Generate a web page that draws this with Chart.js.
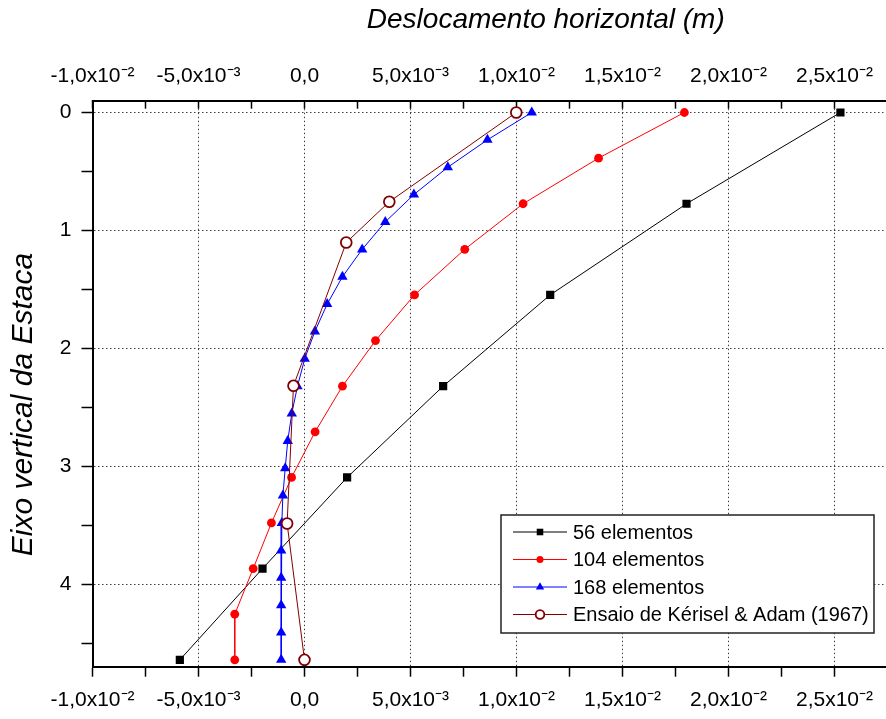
<!DOCTYPE html>
<html>
<head>
<meta charset="utf-8">
<script src="https://cdn.jsdelivr.net/npm/chart.js@4"></script>
<style>
  html, body { margin: 0; padding: 0; background: #fff; overflow: hidden; }
  #wrap { width: 1016px; height: 719px; }
</style>
</head>
<body>
<div id="wrap"><canvas id="chart" width="1016" height="719"></canvas></div>
<script>
// depth along the pile and horizontal displacement (m), one pair per mesh
const depth56 = [0, 0.774, 1.547, 2.321, 3.095, 3.868, 4.642];
const disp56 = [0.02528, 0.01802, 0.01159, 0.00654, 0.00201, -0.00198, -0.00588];

const depth104 = [0, 0.387, 0.774, 1.160, 1.547, 1.934, 2.321, 2.708, 3.095, 3.481, 3.868, 4.255, 4.642];
const disp104 = [0.01792, 0.01387, 0.01031, 0.00756, 0.00519, 0.00335, 0.00179, 0.0005, -0.00061, -0.00156, -0.00242, -0.00329, -0.00329];

const depth168 = [0, 0.232, 0.464, 0.696, 0.928, 1.161, 1.393, 1.625, 1.857, 2.089, 2.321, 2.553, 2.785, 3.017, 3.249, 3.482, 3.714, 3.946, 4.178, 4.41, 4.642];
const disp168 = [0.01072, 0.00863, 0.00676, 0.00516, 0.00381, 0.00272, 0.00179, 0.00107, 0.00049, 0.00001, -0.00033, -0.0006, -0.00079, -0.00091, -0.00102, -0.00107, -0.0011, -0.0011, -0.0011, -0.0011, -0.0011];

const depthEnsaio = [0, 0.757, 1.103, 2.318, 3.486, 4.642];
const dispEnsaio = [0.00999, 0.004, 0.00197, -0.00052, -0.00082, 0.0];

const seriesNames = ['56 elementos', '104 elementos', '168 elementos', 'Ensaio de Kérisel & Adam (1967)'];

const xTickValues = [-0.01, -0.005, 0, 0.005, 0.01, 0.015, 0.02, 0.025];
const xTickLabels = ['-1,0x10⁻²', '-5,0x10⁻³', '0,0', '5,0x10⁻³', '1,0x10⁻²', '1,5x10⁻²', '2,0x10⁻²', '2,5x10⁻²'];
const yTickValues = [0, 1, 2, 3, 4];
const yTickLabels = ['0', '1', '2', '3', '4'];

const FONT = "'Liberation Sans', Arial, sans-serif";
Chart.defaults.font.family = FONT;
Chart.defaults.color = '#000';

function pointsOf(xs, ys) {
    return xs.map((v, i) => ({x: v, y: ys[i]}));
}

function labelFor(values, labels, v) {
    for (let i = 0; i < values.length; i++) {
        if (Math.abs(values[i] - v) < 1e-9) return labels[i];
    }
    return '';
}

function isMajor(values, v) {
    return values.some(t => Math.abs(t - v) < 1e-9);
}

const gridDot = 'rgba(0,0,0,0.75)';

// legend box drawn inside the plot, lower right
const boxLegend = {
    id: 'boxLegend',
    afterDraw(chart) {
        const ctx = chart.ctx;
        ctx.save();
        ctx.fillStyle = '#fff';
        ctx.fillRect(501, 515, 373, 118);
        ctx.strokeStyle = '#222';
        ctx.lineWidth = 1.5;
        ctx.strokeRect(501, 515, 373, 118);
        chart.data.datasets.forEach((ds, row) => {
            const y = 532 + row * 27.5;
            ctx.strokeStyle = ds.borderColor;
            ctx.lineWidth = 1;
            ctx.beginPath();
            ctx.moveTo(513, y);
            ctx.lineTo(567, y);
            ctx.stroke();
            ctx.fillStyle = ds.pointBackgroundColor;
            ctx.strokeStyle = ds.pointBorderColor;
            ctx.lineWidth = ds.pointBorderWidth;
            const r = ds.pointRadius * 0.8;
            ctx.beginPath();
            if (ds.pointStyle === 'rect') {
                const s = r * Math.SQRT1_2;
                ctx.rect(540 - s, y - s, 2 * s, 2 * s);
            } else if (ds.pointStyle === 'triangle') {
                ctx.moveTo(540, y - r);
                ctx.lineTo(540 + r * 0.866, y + r / 2);
                ctx.lineTo(540 - r * 0.866, y + r / 2);
                ctx.closePath();
            } else {
                ctx.arc(540, y, r, 0, Math.PI * 2);
            }
            ctx.fill();
            if (ds.pointBorderWidth > 0) ctx.stroke();
            ctx.fillStyle = '#000';
            ctx.font = '20px ' + FONT;
            ctx.textBaseline = 'middle';
            ctx.fillText(ds.label, 573, y + 1);
        });
        ctx.restore();
    }
};

const canvas = document.querySelector('#chart');

new Chart(canvas.getContext('2d'), {
    type: 'scatter',
    data: {
        datasets: [
            {
                label: seriesNames[0],
                data: pointsOf(disp56, depth56),
                borderColor: '#000000',
                pointBackgroundColor: '#000000',
                pointBorderColor: '#000000',
                pointBorderWidth: 0,
                pointStyle: 'rect',
                pointRadius: 5.8,
                order: 3
            },
            {
                label: seriesNames[1],
                data: pointsOf(disp104, depth104),
                borderColor: '#ff0000',
                pointBackgroundColor: '#ff0000',
                pointBorderColor: '#ff0000',
                pointBorderWidth: 0,
                pointStyle: 'circle',
                pointRadius: 4.4,
                order: 2
            },
            {
                label: seriesNames[2],
                data: pointsOf(disp168, depth168),
                borderColor: '#0000ff',
                pointBackgroundColor: '#0000ff',
                pointBorderColor: '#0000ff',
                pointBorderWidth: 0,
                pointStyle: 'triangle',
                pointRadius: 6,
                order: 1
            },
            {
                label: seriesNames[3],
                data: pointsOf(dispEnsaio, depthEnsaio),
                borderColor: '#800000',
                pointBackgroundColor: '#ffffff',
                pointBorderColor: '#800000',
                pointBorderWidth: 1.8,
                pointStyle: 'circle',
                pointRadius: 5.4,
                order: 0
            }
        ].map(ds => Object.assign(ds, {showLine: true, borderWidth: 1, tension: 0, pointHoverRadius: ds.pointRadius}))
    },
    options: {
        responsive: false,
        animation: false,
        devicePixelRatio: 1,
        layout: {padding: {left: 0, top: 0, right: 17, bottom: 0}},
        plugins: {
            legend: {display: false},
            tooltip: {enabled: false}
        },
        scales: {
            x: {
                type: 'linear',
                position: 'bottom',
                min: -0.01,
                max: 0.03276,
                afterFit(scale) { scale.height = 52.3; },
                ticks: {
                    stepSize: 0.0025,
                    includeBounds: false,
                    autoSkip: false,
                    maxRotation: 0,
                    padding: 11,
                    font: {size: 21},
                    callback: v => labelFor(xTickValues, xTickLabels, v)
                },
                grid: {
                    color: c => (c.tick && isMajor(xTickValues, c.tick.value)) ? gridDot : 'transparent',
                    lineWidth: 1,
                    tickColor: '#000',
                    tickWidth: 1.5,
                    tickLength: 10
                },
                border: {color: '#000', width: 2, dash: [1.5, 2.5]}
            },
            x2: {
                type: 'linear',
                position: 'top',
                min: -0.01,
                max: 0.03276,
                afterFit(scale) { scale.height = 100.7; },
                ticks: {
                    stepSize: 0.0025,
                    includeBounds: false,
                    autoSkip: false,
                    maxRotation: 0,
                    padding: 20,
                    font: {size: 21},
                    callback: v => labelFor(xTickValues, xTickLabels, v)
                },
                grid: {
                    drawOnChartArea: false,
                    tickColor: '#000',
                    tickWidth: 1.5,
                    tickLength: -8
                },
                border: {color: '#000', width: 2},
                title: {
                    display: true,
                    text: 'Deslocamento horizontal (m)',
                    font: {size: 28, style: 'italic'},
                    padding: {top: 3, bottom: 0}
                }
            },
            y: {
                type: 'linear',
                position: 'left',
                reverse: true,
                min: -0.1,
                max: 4.7,
                afterFit(scale) { scale.width = 92.5; },
                ticks: {
                    stepSize: 0.5,
                    includeBounds: false,
                    autoSkip: false,
                    padding: 10,
                    font: {size: 21},
                    callback: v => labelFor(yTickValues, yTickLabels, v)
                },
                grid: {
                    color: c => (c.tick && isMajor(yTickValues, c.tick.value)) ? gridDot : 'transparent',
                    lineWidth: 1,
                    tickColor: '#000',
                    tickWidth: 1.5,
                    tickLength: 11
                },
                border: {color: '#000', width: 2, dash: [1.5, 2.5]},
                title: {
                    display: true,
                    // trailing spaces push the rotated title a little lower, as in the source figure
                    text: 'Eixo vertical da Estaca     ',
                    font: {size: 30, style: 'italic'},
                    padding: {top: 6, bottom: 0}
                }
            }
        }
    },
    plugins: [boxLegend]
});
</script>
</body>
</html>
